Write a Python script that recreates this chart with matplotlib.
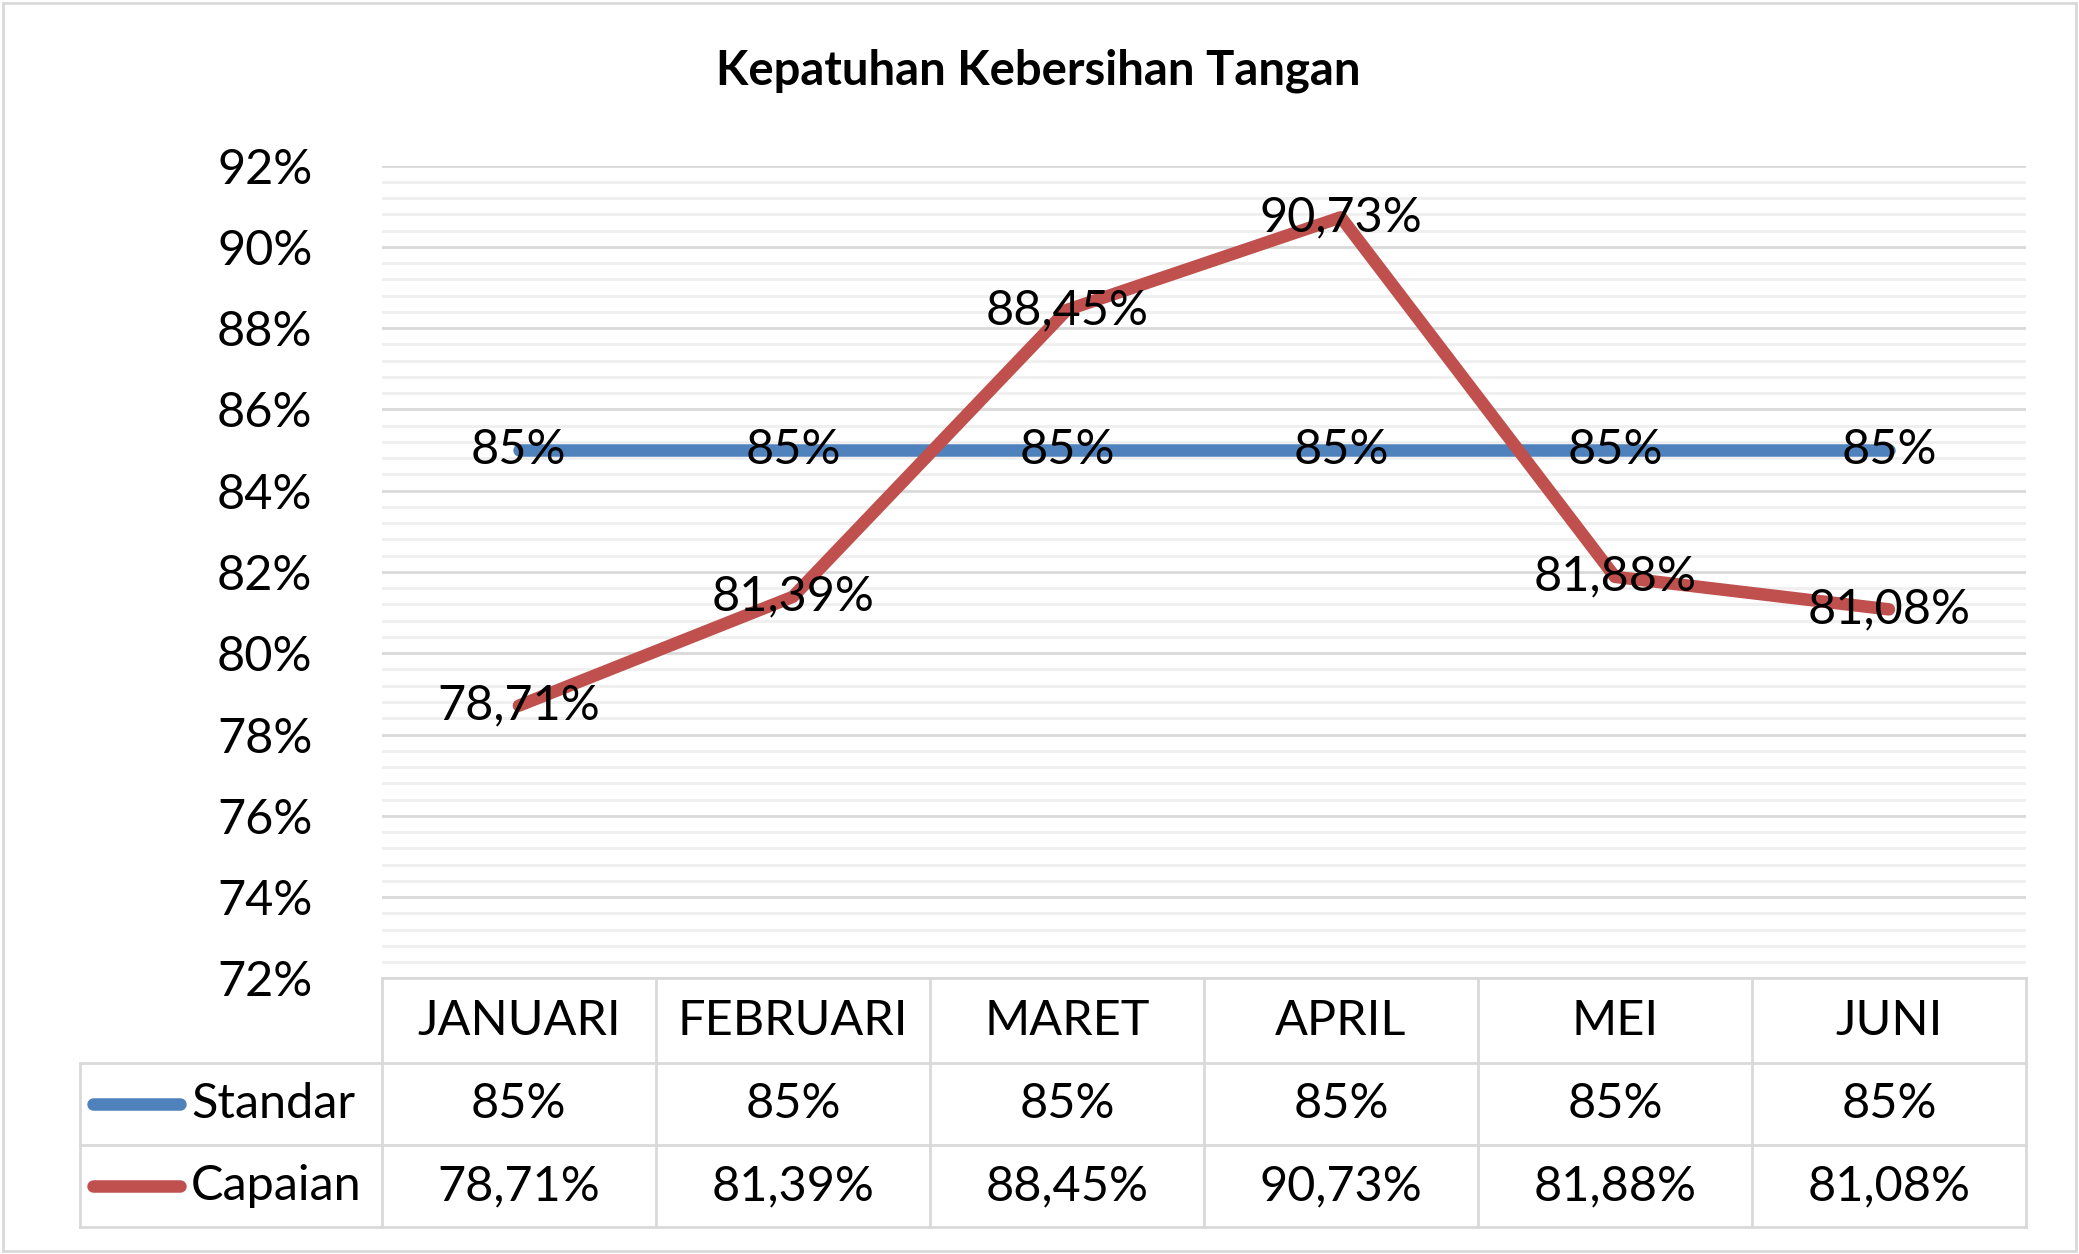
import matplotlib
matplotlib.use("Agg")
import matplotlib.pyplot as plt
import numpy as np

months = ["JANUARI", "FEBRUARI", "MARET", "APRIL", "MEI", "JUNI"]
standar = [85, 85, 85, 85, 85, 85]
capaian = [78.71, 81.39, 88.45, 90.73, 81.88, 81.08]
standar_lbl = ["85%"] * 6
capaian_lbl = ["78,71%", "81,39%", "88,45%", "90,73%", "81,88%", "81,08%"]

plt.rcParams['font.family'] = ['Lato', 'DejaVu Sans']
W, H = 1568, 946
fig = plt.figure(figsize=(20.79, 12.54), dpi=100)
BLUE = "#4f81bd"; RED = "#c0504d"; GRID = "#d9d9d9"
fs = 35

def fx(x): return x / W
def fy(y): return 1 - y / H

L, R, T, B = 288, 1528, 125, 738
ax = fig.add_axes([fx(L), fy(B), fx(R) - fx(L), fy(T) - fy(B)])
x = np.arange(6)
ax.set_xlim(-0.5, 5.5)
ax.set_ylim(72, 92)
for v in np.arange(72, 92.01, 0.4):
    major = abs(v / 2 - round(v / 2)) < 1e-6
    ax.axhline(v, color=GRID if major else "#efefef", lw=2, zorder=0)
ax.plot(x, standar, color=BLUE, lw=9, solid_capstyle='round', zorder=3)
ax.plot(x, capaian, color=RED, lw=9, solid_capstyle='round', zorder=3)
for i in range(6):
    ax.text(x[i], standar[i], standar_lbl[i], ha='center', va='center', fontsize=fs, zorder=5)
    ax.text(x[i], capaian[i], capaian_lbl[i], ha='center', va='center', fontsize=fs, zorder=5)
ax.set_yticks(np.arange(72, 93, 2))
ax.set_yticklabels([f"{v}%" for v in range(72, 93, 2)], fontsize=fs)
ax.set_xticks([])
ax.tick_params(axis='y', length=0, pad=50)
for s in ax.spines.values():
    s.set_visible(False)

ov = fig.add_axes([0, 0, 1, 1], zorder=-1)
ov.set_xlim(0, W); ov.set_ylim(H, 0); ov.axis('off')
ov.add_patch(plt.Rectangle((2, 2), W - 4, H - 4, fill=False, ec="#d9d9d9", lw=2))
ov2 = fig.add_axes([0, 0, 1, 1], zorder=10)
ov2.set_xlim(0, W); ov2.set_ylim(H, 0); ov2.axis('off'); ov2.patch.set_alpha(0)
ov2.text(783, 53, "Kepatuhan Kebersihan Tangan", ha='center', va='center',
         fontsize=34, fontweight='bold')
cols = np.linspace(L, R, 7)
rows = [738, 802, 864, 926]
lc = "#d9d9d9"
for c in cols:
    ov2.plot([c, c], [rows[0], rows[-1]], color=lc, lw=2)
ov2.plot([60, 60], [rows[1], rows[-1]], color=lc, lw=2)
ov2.plot([L, R], [rows[0], rows[0]], color=lc, lw=2)
for r in rows[1:]:
    ov2.plot([60, R], [r, r], color=lc, lw=2)
cx = (cols[:-1] + cols[1:]) / 2
cy = [(rows[i] + rows[i + 1]) / 2 for i in range(3)]
for i in range(6):
    ov2.text(cx[i], cy[0], months[i], ha='center', va='center', fontsize=fs)
    ov2.text(cx[i], cy[1], standar_lbl[i], ha='center', va='center', fontsize=fs)
    ov2.text(cx[i], cy[2], capaian_lbl[i], ha='center', va='center', fontsize=fs)
for yy, col, name in [(cy[1], BLUE, "Standar"), (cy[2], RED, "Capaian")]:
    ov2.plot([70, 136], [yy, yy], color=col, lw=9, solid_capstyle='round')
    ov2.text(144, yy, name, ha='left', va='center', fontsize=fs)

fig.savefig("out.png", dpi=100, facecolor='white')
